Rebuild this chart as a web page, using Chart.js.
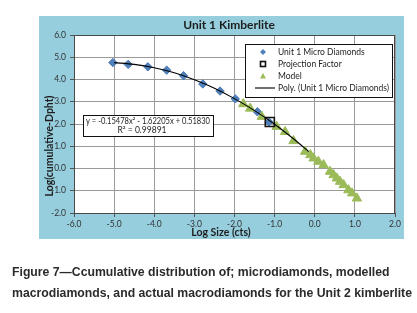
<!DOCTYPE html>
<html>
<head>
<meta charset="utf-8">
<script src="https://cdn.jsdelivr.net/npm/chart.js@4.4.0/dist/chart.umd.min.js"></script>
<style>
  html, body { margin: 0; padding: 0; background: #fff; }
  #contenedor { width: 417px; height: 313px; position: relative; }
</style>
</head>
<body>
<div id="contenedor"><canvas id="grafico"></canvas></div>
<script>
// datos
const microX = [-5.03, -4.65, -4.16, -3.69, -3.27, -2.79, -2.36, -1.98, -1.43, -1.14];
const microY = [4.76, 4.68, 4.57, 4.42, 4.17, 3.80, 3.48, 3.13, 2.55, 2.09];

const proyX = [-1.12];
const proyY = [2.09];

const modeloX = [-1.78, -1.61, -1.32, -0.95, -0.74, -0.53, -0.24, -0.11, -0.03, 0.09, 0.22, 0.38, 0.47, 0.55, 0.63, 0.72, 0.84, 0.93, 1.05];
const modeloY = [2.90, 2.70, 2.33, 1.88, 1.65, 1.24, 0.76, 0.61, 0.46, 0.31, 0.16, -0.14, -0.29, -0.44, -0.59, -0.74, -0.97, -1.11, -1.34];

// linea de tendencia
const polyX = [-5.0, -4.5, -4.0, -3.5, -3.0, -2.5, -2.0, -1.5, -1.0, -0.5, -0.15];
const polyY = [4.76, 4.68, 4.53, 4.30, 3.99, 3.61, 3.14, 2.60, 1.99, 1.29, 0.76];

const ticksX = [-6, -5, -4, -3, -2, -1, 0, 1, 2];
const ticksY = [-2, -1, 0, 1, 2, 3, 4, 5, 6];

const etiquetasLeyenda = ['Unit 1 Micro Diamonds', 'Projection Factor', 'Model', 'Poly. (Unit 1 Micro Diamonds)'];
const ecuacion = 'y = -0.15478x\u00b2 - 1.62205x + 0.51830';
const r2 = 'R\u00b2 = 0.99891';
const titulo = 'Unit 1 Kimberlite';
const tituloX = 'Log Size (cts)';
const tituloY = 'Log(cumulative-Dpht)';
const pie1 = 'Figure 7\u2014Ccumulative distribution of; microdiamonds, modelled';
const pie2 = 'macrodiamonds, and actual macrodiamonds for the Unit 2 kimberlite';

const azul = '#4f81bd';
const verde = '#9bbb59';
const fondo = '#96cede';

function puntos(xs, ys) {
    return xs.map((x, i) => ({ x: x, y: ys[i] }));
}

const decoracion = {
    id: 'decoracion',
    beforeDraw(chart) {
        const ctx = chart.ctx;
        const a = chart.chartArea;
        ctx.save();
        ctx.fillStyle = '#fff';
        ctx.fillRect(0, 0, chart.width, chart.height);
        ctx.fillStyle = fondo;
        ctx.fillRect(39, 16, 365, 223);
        ctx.fillStyle = '#fff';
        ctx.fillRect(a.left, a.top, a.right - a.left, a.bottom - a.top);
        ctx.restore();
    },
    beforeDatasetsDraw(chart) {
        const ctx = chart.ctx;
        const a = chart.chartArea;
        ctx.save();
        ctx.strokeStyle = '#4a4a4a';
        ctx.lineWidth = 1;
        ctx.strokeRect(a.left + 0.5, a.top + 0.5, a.right - a.left - 1, a.bottom - a.top);
        ctx.restore();
    },
    afterDraw(chart) {
        const ctx = chart.ctx;
        ctx.save();
        ctx.textBaseline = 'middle';
        ctx.textAlign = 'center';
        ctx.fillStyle = '#1e1e1e';

        // titulo
        ctx.font = 'bold 12px Lato';
        ctx.fillText(titulo, 229, 25);

        // titulos de ejes
        ctx.font = 'bold 10.5px Lato';
        ctx.fillText(tituloX, 221, 233);
        ctx.save();
        ctx.translate(50, 146);
        ctx.rotate(-Math.PI / 2);
        ctx.fillText(tituloY, 0, 0);
        ctx.restore();

        // leyenda
        ctx.fillStyle = '#fff';
        ctx.fillRect(245, 44, 147, 53);
        ctx.strokeStyle = '#111';
        ctx.lineWidth = 1;
        ctx.strokeRect(245.5, 44.5, 147, 53);
        const filas = [52, 64, 76, 88];
        ctx.font = '8.5px Lato';
        ctx.textAlign = 'left';
        ctx.fillStyle = '#1e1e1e';
        etiquetasLeyenda.forEach((t, i) => ctx.fillText(t, 278, filas[i]));
        // marcadores
        ctx.fillStyle = azul;
        ctx.beginPath();
        ctx.moveTo(263, filas[0] - 3); ctx.lineTo(266, filas[0]); ctx.lineTo(263, filas[0] + 3); ctx.lineTo(260, filas[0]);
        ctx.closePath(); ctx.fill();
        ctx.strokeStyle = '#111';
        ctx.lineWidth = 1.6;
        ctx.strokeRect(260.5, filas[1] - 2.5, 5, 5);
        ctx.fillStyle = verde;
        ctx.beginPath();
        ctx.moveTo(263, filas[2] - 3); ctx.lineTo(266, filas[2] + 2.5); ctx.lineTo(260, filas[2] + 2.5);
        ctx.closePath(); ctx.fill();
        ctx.strokeStyle = '#111';
        ctx.lineWidth = 1.2;
        ctx.beginPath();
        ctx.moveTo(255, filas[3]); ctx.lineTo(275, filas[3]);
        ctx.stroke();

        // caja de la ecuacion
        ctx.fillStyle = '#fff';
        ctx.fillRect(83, 115, 130, 21);
        ctx.strokeStyle = '#111';
        ctx.lineWidth = 1;
        ctx.strokeRect(83.5, 115.5, 130, 21);
        ctx.fillStyle = '#1e1e1e';
        ctx.font = '8.5px Lato';
        ctx.textAlign = 'center';
        ctx.fillText(ecuacion, 148, 121, 124);
        ctx.fillText(r2, 142, 130.5);

        // pie de figura, misma escala horizontal para las dos lineas
        ctx.textAlign = 'left';
        ctx.fillStyle = '#2b2b2b';
        ctx.font = 'bold 13.5px "Liberation Sans", Arial';
        const escala = Math.min(1, 400 / ctx.measureText(pie2).width);
        ctx.save();
        ctx.translate(12, 0);
        ctx.scale(escala, 1);
        ctx.fillText(pie1, 0, 272);
        ctx.fillText(pie2, 0, 293);
        ctx.restore();
        ctx.restore();
    }
};

const canvas = document.getElementById('grafico');
const grafico = new Chart(canvas.getContext('2d'), {
    type: 'scatter',
    data: {
        datasets: [
            {
                label: etiquetasLeyenda[3],
                data: puntos(polyX, polyY),
                showLine: true,
                borderColor: '#000',
                borderWidth: 1.1,
                pointRadius: 0,
                tension: 0.4,
                cubicInterpolationMode: 'monotone'
            },
            {
                label: etiquetasLeyenda[1],
                data: puntos(proyX, proyY),
                pointStyle: 'rect',
                pointRadius: 6.4,
                backgroundColor: 'rgba(0,0,0,0)',
                borderColor: '#111',
                borderWidth: 1.6
            },
            {
                label: etiquetasLeyenda[2],
                data: puntos(modeloX, modeloY),
                pointStyle: 'triangle',
                pointRadius: 5.4,
                backgroundColor: verde,
                borderColor: verde,
                borderWidth: 1
            },
            {
                label: etiquetasLeyenda[0],
                data: puntos(microX, microY),
                pointStyle: 'rectRot',
                pointRadius: 4.2,
                backgroundColor: azul,
                borderColor: '#4a7ab3',
                borderWidth: 1
            }
        ]
    },
    options: {
        responsive: true,
        maintainAspectRatio: false,
        animation: false,
        layout: { padding: { left: 39, right: 22, top: 35, bottom: 74 } },
        plugins: {
            legend: { display: false },
            title: { display: false },
            tooltip: { enabled: false }
        },
        scales: {
            x: {
                type: 'linear',
                min: ticksX[0],
                max: ticksX[ticksX.length - 1],
                afterBuildTicks: s => { s.ticks = ticksX.map(v => ({ value: v })); },
                afterFit: s => { s.height = 26; },
                ticks: {
                    callback: v => v.toFixed(1),
                    font: { family: 'Lato', size: 8.5 },
                    color: '#333',
                    padding: 2,
                    maxRotation: 0
                },
                grid: { color: '#9a9a9a', tickColor: '#555', tickLength: 4 },
                border: { color: '#4a4a4a' }
            },
            y: {
                type: 'linear',
                min: ticksY[0],
                max: ticksY[ticksY.length - 1],
                afterBuildTicks: s => { s.ticks = ticksY.map(v => ({ value: v })); },
                afterFit: s => { s.width = 35; },
                ticks: {
                    callback: v => v.toFixed(1),
                    font: { family: 'Lato', size: 8.5 },
                    color: '#333',
                    padding: 4
                },
                grid: { color: '#9a9a9a', tickColor: '#555', tickLength: 4 },
                border: { color: '#4a4a4a' }
            }
        }
    },
    plugins: [decoracion]
});
</script>
</body>
</html>
